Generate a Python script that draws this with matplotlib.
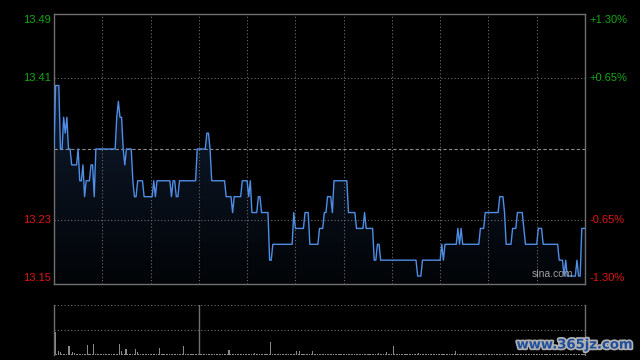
import matplotlib
matplotlib.use('Agg')
import matplotlib.pyplot as plt
import matplotlib.patheffects as pe
import numpy as np

# minute-by-minute price, stored as runs (price held for n minutes)
run_prices = [13.32, 13.40, 13.32, 13.36, 13.34, 13.36, 13.32, 13.30, 13.32, 13.28,
              13.30, 13.26, 13.28, 13.30, 13.26, 13.32, 13.36, 13.38, 13.36, 13.32,
              13.30, 13.32, 13.28, 13.26, 13.28, 13.26, 13.28, 13.26, 13.28, 13.26,
              13.28, 13.26, 13.28, 13.32, 13.34, 13.32, 13.28, 13.26, 13.24, 13.26,
              13.28, 13.26, 13.28, 13.24, 13.26, 13.24, 13.18, 13.20, 13.24, 13.22,
              13.24, 13.20, 13.22, 13.24, 13.26, 13.24, 13.28, 13.24, 13.22, 13.24,
              13.22, 13.18, 13.20, 13.18, 13.16, 13.18, 13.20, 13.18, 13.20, 13.22,
              13.20, 13.22, 13.20, 13.22, 13.24, 13.26, 13.24, 13.20, 13.22, 13.24,
              13.22, 13.20, 13.22, 13.20, 13.18, 13.16, 13.18, 13.16, 13.18, 13.16,
              13.22]
run_lengths = [1, 3, 2, 1, 1, 1, 2, 4, 1, 2,
               1, 1, 3, 2, 1, 13, 1, 1, 2, 1,
               1, 4, 1, 2, 4, 6, 1, 1, 9, 1,
               2, 2, 11, 6, 2, 1, 9, 4, 1, 5,
               4, 1, 1, 4, 2, 5, 2, 13, 1, 6,
               3, 6, 3, 2, 3, 1, 9, 5, 5, 1,
               5, 2, 2, 23, 3, 12, 1, 1, 8, 1,
               1, 1, 11, 3, 9, 3, 1, 4, 3, 4,
               1, 8, 3, 10, 3, 1, 1, 6, 1, 2,
               3]

prev_close = 13.32
y_ticks = [13.49, 13.41, 13.23, 13.15]
pct_ticks = ['+1.30%', '+0.65%', '-0.65%', '-1.30%']

# volume: small base trade every minute plus the visible spikes
n_minutes = 331
vol_base = 1.0
vol_spike_minutes = [0, 2, 3, 8, 9, 11, 12, 20, 24, 40, 41, 44, 50, 51, 65, 80,
                     108, 124, 134, 150, 152, 160, 201, 206, 210, 226, 249]
vol_spike_values = [23, 4, 3, 9, 9, 3, 2, 10, 11, 11, 4, 6, 6, 3, 7, 9,
                    5, 2, 13, 4, 4, 4, 2, 3, 9, 2, 4]

prices = np.repeat(run_prices, run_lengths)
minutes = np.arange(len(prices))
volume = np.full(n_minutes, vol_base)
volume[vol_spike_minutes] = vol_spike_values

green = '#14a814'
red = '#e01414'
grid_col = '#6e6e6e'

fig = plt.figure(figsize=(6.4, 3.6), dpi=100, facecolor='black')
ax = fig.add_axes([54 / 640, 1 - 284 / 360, 531 / 640, 270 / 360], facecolor='black')
axv = fig.add_axes([54 / 640, 1 - 355 / 360, 531 / 640, 50 / 360], facecolor='black')

ymin, ymax = 13.15, 13.49
ax.set_xlim(0, 330)
ax.set_ylim(ymin, ymax)

# gradient fill under the line
grad = np.linspace(1, 0, 256).reshape(-1, 1)
top_c = np.array([20, 36, 60]) / 255
bot_c = np.array([2, 4, 7]) / 255
img = bot_c + grad[..., None] * (top_c - bot_c)
poly = ax.fill_between(minutes, prices, ymin, color='none', lw=0)
im = ax.imshow(img, extent=[0, 330, ymin, ymax], aspect='auto', origin='upper', zorder=1)
im.set_clip_path(poly.get_paths()[0], transform=ax.transData)

ax.plot(minutes, prices, color='#4f8de6', lw=1.0, zorder=3)

# grid
for x in range(30, 330, 30):
    ax.axvline(x, color=grid_col, lw=0.8, ls=(0, (1, 2)), zorder=2)
for y in [13.41, 13.23]:
    ax.axhline(y, color=grid_col, lw=0.8, ls=(0, (1, 2)), zorder=2)
ax.axhline(prev_close, color='#8c8c8c', lw=0.8, ls=(0, (3, 2)), zorder=2)

ax.set_xticks([])
ax.set_yticks([])
for s in ax.spines.values():
    s.set_color('#707070')
    s.set_linewidth(1.0)

# price / percent labels
tr = ax.get_yaxis_transform()
for i, (v, p) in enumerate(zip(y_ticks, pct_ticks)):
    col = green if v > prev_close else red
    off = 0
    if i == 0:
        off = -0.008
    if i == len(y_ticks) - 1:
        off = 0.008
    ax.text(-0.006, v + off, f'{v:.2f}', color=col, fontsize=8, ha='right', va='center',
            transform=tr, family='Liberation Sans')
    ax.text(1.009, v + off, p, color=col, fontsize=8, ha='left', va='center',
            transform=tr, family='Liberation Sans')

ax.text(0.977, 0.02, 'sina.com', color='#a0a0a0', fontsize=7.5, ha='right', va='bottom',
        transform=ax.transAxes, family='Liberation Sans')

# volume panel
axv.bar(minutes + 0.75, volume, width=0.65, align='center', color='#8a8a8a', lw=0,
        antialiased=False)
axv.set_xlim(0, 330)
axv.set_ylim(0, 50)
axv.axhline(50, color=grid_col, lw=0.8, ls=(0, (1, 2)))
axv.axhline(25, color=grid_col, lw=0.8, ls=(0, (1, 2)))
axv.axvline(90, color='#707070', lw=1.0)
axv.set_xticks([])
axv.set_yticks([])
axv.spines['top'].set_visible(False)
axv.spines['bottom'].set_visible(False)
for k in ['left', 'right']:
    axv.spines[k].set_color('#707070')
    axv.spines[k].set_linewidth(1.0)

fig.text(575 / 640, 1 - 345 / 360, 'www.365jz.com', color='#1f4f9c', fontsize=9.5,
         fontweight='bold', ha='center', va='center',
         path_effects=[pe.withStroke(linewidth=2.5, foreground='#b0b0b0')])

fig.savefig('out.png', dpi=100, facecolor='black')
